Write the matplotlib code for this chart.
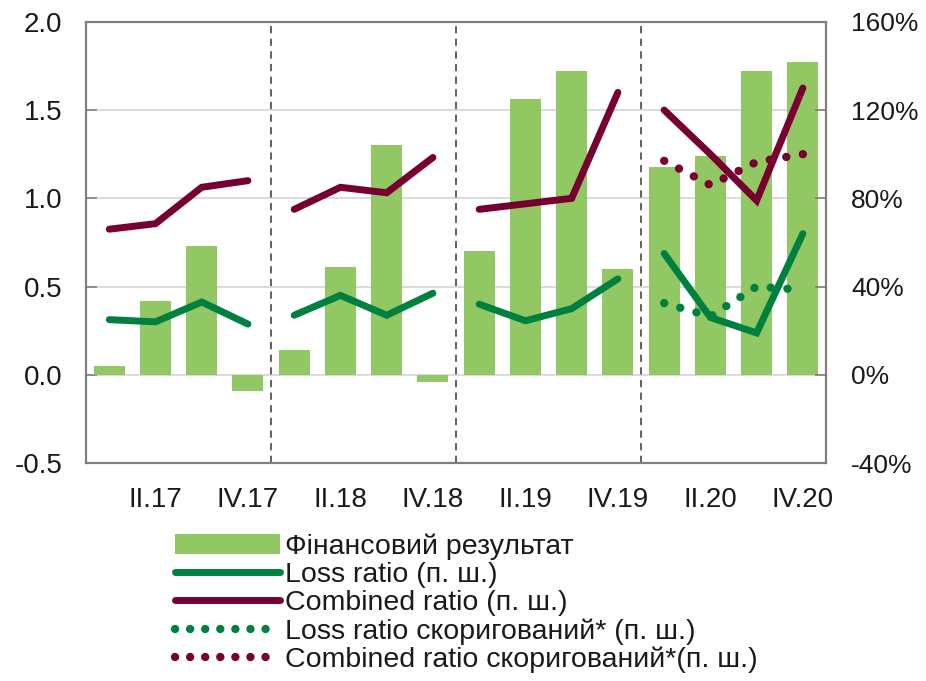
import numpy as np
import matplotlib.pyplot as plt
from matplotlib.patches import Patch
from matplotlib.lines import Line2D

plt.rcParams['font.family'] = ['Liberation Sans', 'DejaVu Sans']

# === ДАНІ ===
quarters = ["I.17", "II.17", "III.17", "IV.17",
            "I.18", "II.18", "III.18", "IV.18",
            "I.19", "II.19", "III.19", "IV.19",
            "I.20", "II.20", "III.20", "IV.20"]
fin_result = [0.05, 0.42, 0.73, -0.09,
              0.14, 0.61, 1.30, -0.04,
              0.70, 1.56, 1.72, 0.60,
              1.18, 1.24, 1.72, 1.77]
loss_ratio = [25, 24, 33, 23,
              27, 36, 27, 37,
              32, 24.5, 30, 43.5,
              55, 26, 19, 64]
combined_ratio = [66, 68.5, 85, 88,
                  75, 85, 82.5, 98.5,
                  75, 77.5, 80, 128,
                  120, 100, 79, 130]
loss_adj = [32.5, 26.5, 40, 38.5]       # 2020
combined_adj = [97, 86, 96.5, 100]      # 2020

BAR_C = "#92C864"
LOSS_C = "#00803F"
COMB_C = "#780030"
TXT_C = "#1a1a1a"

x = np.arange(len(quarters))

fig = plt.figure(figsize=(9.26, 6.81), dpi=100)
ax = fig.add_axes([0.093, 0.320, 0.799, 0.648])
ax2 = ax.twinx()

# === СТОВПЦІ ===
ax.bar(x, fin_result, width=0.67, color=BAR_C, zorder=2)
ax.set_ylim(-0.5, 2.0)
ax.set_yticks(np.arange(-0.5, 2.01, 0.5))
ax.set_yticklabels([f"{v:.1f}" for v in np.arange(-0.5, 2.01, 0.5)])
ax.yaxis.grid(True, color="#d4d4d4", linewidth=1.2, zorder=0)
ax.set_axisbelow(True)
ax.set_xlim(-0.5, len(quarters) - 0.5)
ax.set_xticks(x[1::2])
ax.set_xticklabels(quarters[1::2])

# === РОЗДІЛЮВАЧІ РОКІВ ===
for b in [3.5, 7.5, 11.5]:
    ax.axvline(b, color="#555555", linestyle=(0, (4, 3)), linewidth=1.3, zorder=1)

# === ЛІНІЇ (п. ш.) ===
for yr in range(4):
    sl = slice(yr * 4, yr * 4 + 4)
    ax2.plot(x[sl], loss_ratio[sl], color=LOSS_C, linewidth=5, solid_capstyle="round",
             solid_joinstyle="miter", zorder=3)
    ax2.plot(x[sl], combined_ratio[sl], color=COMB_C, linewidth=5, solid_capstyle="round",
             solid_joinstyle="miter", zorder=3)

dots = (0, (0.01, 2.0))
ax2.plot(x[12:], loss_adj, color=LOSS_C, linewidth=6, linestyle=dots,
         dash_capstyle="round", zorder=4)
ax2.plot(x[12:], combined_adj, color=COMB_C, linewidth=6, linestyle=dots,
         dash_capstyle="round", zorder=4)

ax2.set_ylim(-40, 160)
ax2.set_yticks(np.arange(-40, 161, 40))
ax2.set_yticklabels([f"{v}%" for v in range(-40, 161, 40)])

# === ОФОРМЛЕННЯ ОСЕЙ ===
for a in (ax, ax2):
    for s in a.spines.values():
        s.set_color("#7f7f7f")
        s.set_linewidth(1.5)
ax.tick_params(axis="y", direction="in", length=8, width=1.2, color="#7f7f7f",
               labelsize=20, labelcolor=TXT_C, pad=17)
ax2.tick_params(axis="y", direction="in", length=8, width=1.2, color="#7f7f7f",
                labelsize=19, labelcolor=TXT_C, pad=18)
ax.tick_params(axis="x", length=0, labelsize=20, labelcolor=TXT_C, pad=17)

# === ЛЕГЕНДА ===
handles = [
    Patch(facecolor=BAR_C, edgecolor="none"),
    Line2D([], [], color=LOSS_C, linewidth=5, solid_capstyle="round"),
    Line2D([], [], color=COMB_C, linewidth=5, solid_capstyle="round"),
    Line2D([], [], color=LOSS_C, linewidth=6, linestyle=(0, (0.01, 1.8)), dash_capstyle="round"),
    Line2D([], [], color=COMB_C, linewidth=6, linestyle=(0, (0.01, 1.8)), dash_capstyle="round"),
]
labels = ["Фінансовий результат",
          "Loss ratio (п. ш.)",
          "Combined ratio (п. ш.)",
          "Loss ratio скоригований* (п. ш.)",
          "Combined ratio скоригований*(п. ш.)"]
fig.legend(handles, labels, loc="upper left", bbox_to_anchor=(0.189, 0.216),
           frameon=False, fontsize=20.5, handlelength=3.7, handletextpad=0.18,
           labelspacing=0.07, borderpad=0, borderaxespad=0, labelcolor=TXT_C)

fig.savefig("out.png", dpi=100)
